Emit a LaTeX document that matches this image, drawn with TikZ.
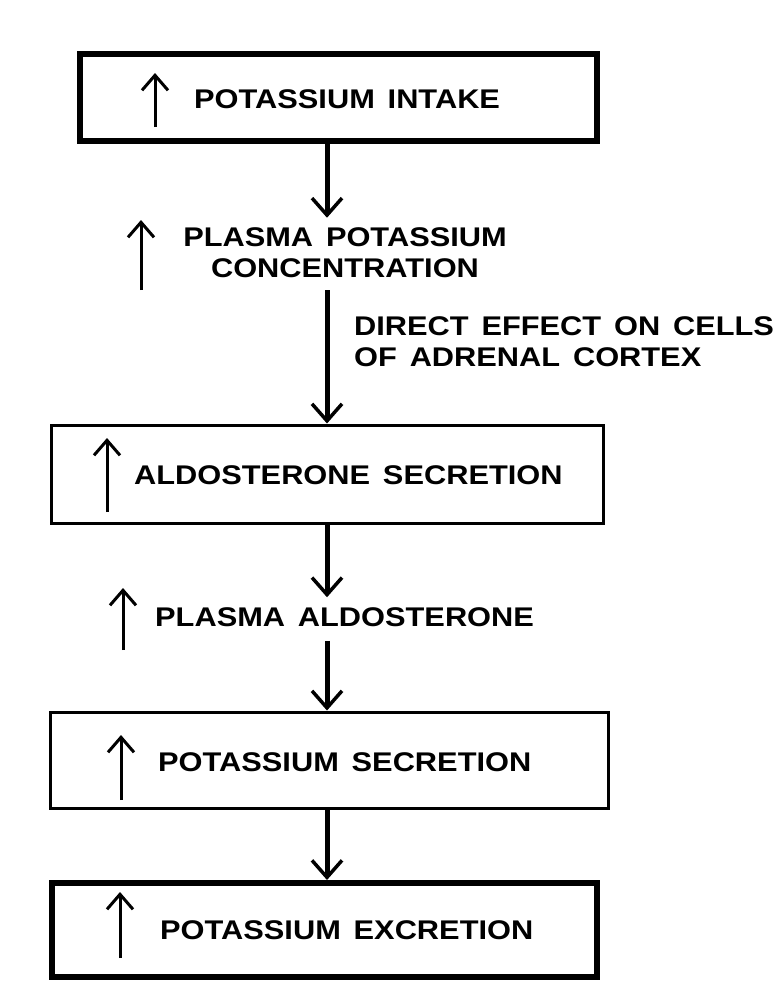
\documentclass[tikz,border=0pt]{standalone}
\usepackage{fontspec}
\newfontfamily\lblfont[FakeStretch=1.14,WordSpace=1.5]{Liberation Sans}
\usetikzlibrary{arrows.meta,positioning}
\tikzset{
  ar/.style={-{Straight Barb[length=17pt,width=30pt,line width=3.5pt]},line width=5pt},
  uparr/.style={-{Straight Barb[length=15pt,width=26pt,line width=3pt]},line width=3pt},
  box/.style={draw,rectangle,inner sep=0pt},
  boldbox/.style={box,line width=6pt},
  thinbox/.style={box,line width=3pt},
  lbl/.style={font=\lblfont\bfseries\fontsize{27}{31}\selectfont,inner sep=0pt}
}
\begin{document}
\begin{tikzpicture}[x=1pt,y=-1pt]
\useasboundingbox (0,0) rectangle (779,1005);
\coordinate (col) at (327,0);
% boxes
\node[boldbox,minimum width=517pt,minimum height=87pt] (intake) at (338.5,97.5) {};
\node[thinbox,minimum width=552pt,minimum height=98pt] (aldo) at (327,474) {};
\node[thinbox,minimum width=558pt,minimum height=96pt] (ksec) at (329,760) {};
\node[boldbox,minimum width=545pt,minimum height=94pt] (kexc) at (324.5,930) {};
% labels
\node[lbl,anchor=west] (intaket) at (194,99) {POTASSIUM INTAKE};
\node[lbl,align=center] (plasmak) at (345,253) {PLASMA POTASSIUM\\CONCENTRATION};
\node[lbl,anchor=north west,align=left] (effect) at (354,316) {DIRECT EFFECT ON CELLS\\OF ADRENAL CORTEX};
\node[lbl,anchor=west] (aldot) at (134,475) {ALDOSTERONE SECRETION};
\node[lbl,anchor=west] (plasmaa) at (155,617) {PLASMA ALDOSTERONE};
\node[lbl,anchor=west] (ksect) at (158,762) {POTASSIUM SECRETION};
\node[lbl,anchor=west] (kexct) at (160,930) {POTASSIUM EXCRETION};
% flow
\draw[ar] (intake.south -| col) -- ([yshift=10pt]plasmak.north -| col);
\draw[ar] ([yshift=-12pt]plasmak.south -| col) -- (aldo.north -| col);
\draw[ar] (aldo.south -| col) -- ([yshift=10pt]plasmaa.north -| col);
\draw[ar] ([yshift=-14pt]plasmaa.south -| col) -- (ksec.north -| col);
\draw[ar] (ksec.south -| col) -- (kexc.north -| col);
% rise marks
\draw[uparr] (155,127) -- (155,73);
\draw[uparr] (141,290) -- (141,220);
\draw[uparr] (107,512) -- (107,438);
\draw[uparr] (123,650) -- (123,588);
\draw[uparr] (121,800) -- (121,735);
\draw[uparr] (120,958) -- (120,892);
\end{tikzpicture}
\end{document}
